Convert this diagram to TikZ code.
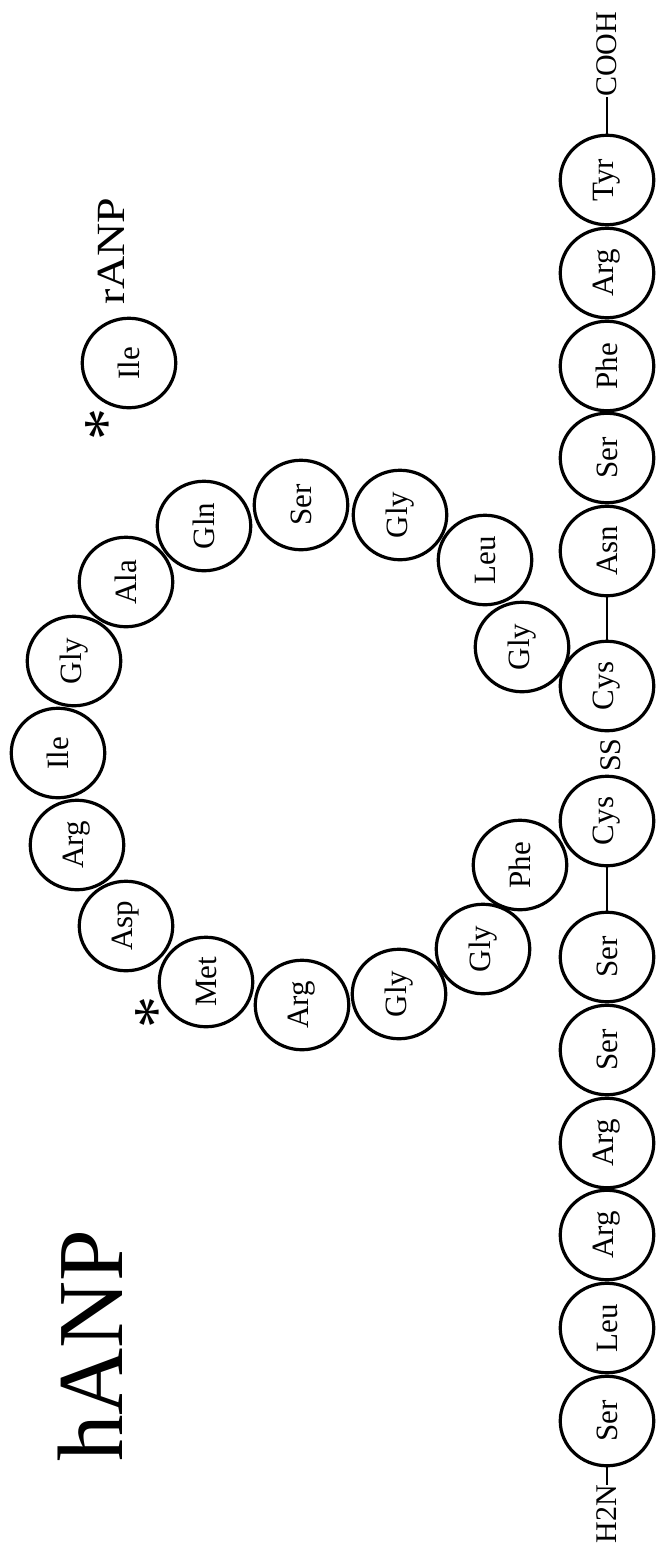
\documentclass[tikz,border=0pt]{standalone}
\usepackage{fontspec}
\setmainfont{Liberation Serif}
\usetikzlibrary{shapes.geometric}
\begin{document}
\begin{tikzpicture}[x=1pt,y=-1pt,
  res/.style={draw, line width=3.2pt, ellipse, rotate=90, minimum width=89.5pt, minimum height=93.5pt, inner sep=0pt, font=\fontsize{31}{31}\selectfont},
  lab/.style={rotate=90, inner sep=0pt, font=\fontsize{30}{30}\selectfont},
  bond/.style={line width=2.8pt},
  star/.style={rotate=90, inner sep=0pt, anchor=base, font=\fontsize{64}{64}\selectfont}]
\useasboundingbox (0,0) rectangle (660,1559);
% linear chain
\node[res] (n1) at (607,1421) {Ser};
\node[res] (n2) at (607,1328) {Leu};
\node[res] (n3) at (607,1235) {Arg};
\node[res] (n4) at (607,1143) {Arg};
\node[res] (n5) at (607,1050) {Ser};
\node[res] (n6) at (607,957) {Ser};
\node[res] (n7) at (607,821) {Cys};
\node[res] (n8) at (607,686) {Cys};
\node[res] (n9) at (607,551) {Asn};
\node[res] (n10) at (607,458) {Ser};
\node[res] (n11) at (607,366) {Phe};
\node[res] (n12) at (607,273) {Arg};
\node[res] (n13) at (607,180) {Tyr};
\coordinate (h2nend) at (607,1485);
\coordinate (coohend) at (607,97);
\node[lab, anchor=east] (h2n) at (h2nend) {H2N};
\node[lab, anchor=west] (cooh) at (coohend) {COOH};
\node[lab] (ss) at (611,755) {SS};
\draw[bond] (n1.west) -- (h2nend);
\draw[bond] (n6.east) -- (n7.west);
\draw[bond] (n8.east) -- (n9.west);
\draw[bond] (n13.east) -- (coohend);
% ring
\node[res] (r1) at (522,647) {Gly};
\node[res] (r2) at (485,560) {Leu};
\node[res] (r3) at (400,515) {Gly};
\node[res] (r4) at (301,505) {Ser};
\node[res] (r5) at (204,526) {Gln};
\node[res] (r6) at (126,582) {Ala};
\node[res] (r7) at (74,661) {Gly};
\node[res] (r8) at (58,753) {Ile};
\node[res] (r9) at (77,845) {Arg};
\node[res] (r10) at (126,926) {Asp};
\node[res] (r11) at (206,982) {Met};
\node[res] (r12) at (302,1005) {Arg};
\node[res] (r13) at (399,994) {Gly};
\node[res] (r14) at (483,949) {Gly};
\node[res] (r15) at (520,865) {Phe};
% rANP substitution
\node[res] (rile) at (129,363) {Ile};
\node[star] (s1) at (127,424) {*};
\node[star] (s2) at (177,1012) {*};
\node[rotate=90, inner sep=0pt, anchor=base west, font=\fontsize{40}{40}\selectfont] (ranp) at (124,305) {\scalebox{1.15}[1]{rANP}};
\node[rotate=90, inner sep=0pt, anchor=base west, font=\fontsize{93}{93}\selectfont] (hanp) at (122,1462) {hANP};
\end{tikzpicture}
\end{document}
